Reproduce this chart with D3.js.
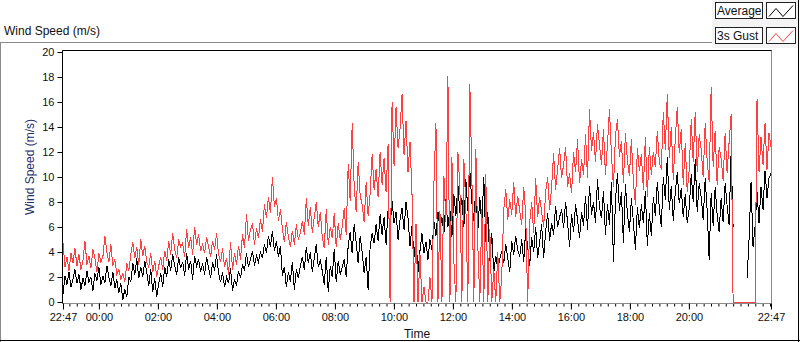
<!DOCTYPE html>
<html>
<head>
<meta charset="utf-8">
<script src="https://cdn.jsdelivr.net/npm/d3@7"></script>
<style>
  body { margin: 0; background: #fff; }
  svg { display: block; font-family: "Liberation Sans", Arial, sans-serif; }
</style>
</head>
<body>
<svg id="chart" width="800" height="342"></svg>
<script>
// samples, evenly spaced from 22:47 to 22:47 next day (null = no reading)
const avgSpeed = [
  0.6, 2.1, 1.4, 2.4, 1.2, 1.8, 2.6, 1.5, 2.2, 1.0,
  1.9, 1.3, 2.5, 1.6, 2.0, 0.9, 2.3, 1.7, 2.8, 1.4,
  2.1, 1.5, 2.9, 2.0, 1.3, 2.4, 1.1, 1.8, 0.7, 1.5,
  0.2, 1.0, 0.4, 2.0, 1.6, 3.1, 2.2, 3.5, 1.9, 2.8,
  2.0, 3.3, 2.4, 1.3, 2.6, 0.8, 1.9, 0.4, 1.5, 2.3,
  1.2, 2.8, 2.0, 3.4, 2.5, 3.8, 2.9, 2.2, 3.6, 2.7,
  3.2, 2.1, 3.9, 2.6, 3.3, 1.8, 3.7, 2.9, 3.4, 2.4,
  3.1, 2.2, 3.6, 2.7, 1.9, 3.2, 2.5, 3.8, 2.3, 1.6,
  2.4, 1.2, 2.0, 1.5, 2.7, 0.9, 1.8, 1.3, 2.5, 1.9,
  3.0, 2.5, 3.9, 2.8, 3.4, 4.1, 2.9, 3.7, 3.2, 4.0,
  3.5, 4.6, 3.9, 5.3, 4.4, 5.7, 4.1, 4.9, 3.6, 4.5,
  2.1, 2.8, 1.2, 2.4, 1.6, 3.2, 1.0, 2.6, 1.9, 2.9,
  3.6, 2.6, 4.4, 3.1, 4.0, 2.4, 3.5, 4.6, 2.8, 3.3,
  2.5, 1.4, 3.6, 0.8, 2.9, 2.0, 4.2, 1.6, 3.3, 2.2,
  2.8, 3.4, 2.0, 4.5, 5.6, 3.9, 6.2, 4.8, 3.1, 5.3,
  4.0, 2.3, 3.6, 1.0, 4.4, 5.5, 4.7, 6.2, 4.9, 7.0,
  5.4, 6.8, 4.6, 7.4, 5.9, 8.1, 6.3, 7.2, 5.0, 6.6,
  7.5, 5.8, 8.0, 6.7, 4.5, 6.1, 3.6, 5.2, 2.4, 4.1,
  5.5, 3.9, 4.8, 3.4, 5.0, 4.2, 6.4, 5.3, 7.2, 5.8,
  6.8, 5.5, 8.2, 6.0, 7.4, 5.2, 8.6, 6.9, 9.4, 7.1,
  8.3, 6.0, 9.8, 7.3, 10.5, 8.0, 6.5, 9.1, 5.7, 8.4,
  6.1, 10.0, 4.8, 7.2, 3.3, 5.5, 2.3, 3.7, 2.6, 3.4,
  4.1, 3.1, 4.6, 3.5, 2.4, 4.9, 3.8, 5.3, 4.2, 3.6,
  5.0, 3.2, 5.8, 4.4, 2.9, 5.2, 4.0, 6.0, 3.5, 4.8,
  6.2, 3.5, 5.6, 7.1, 4.9, 6.3, 5.4, 7.7, 6.0, 6.8,
  7.4, 5.9, 8.0, 6.4, 4.4, 7.0, 5.6, 7.8, 6.6, 5.1,
  7.2, 6.1, 8.5, 5.8, 9.3, 7.0, 8.0, 6.3, 9.8, 7.6,
  6.7, 8.9, 5.4, 7.8, 6.2, 9.6, 3.2, 8.1, 10.3, 7.3,
  8.8, 4.7, 9.4, 7.1, 5.6, 8.3, 6.4, 4.2, 7.6, 5.9,
  7.8, 6.3, 8.9, 4.5, 7.1, 5.3, 8.4, 6.9, 9.6, 7.5,
  6.0, 10.0, 8.2, 11.6, 7.4, 9.3, 6.5, 8.8, 10.4, 7.9,
  9.1, 6.8, 8.6, 6.3, 7.5, 10.2, 8.0, 11.4, 7.2, 9.5,
  8.4, 6.6, 9.9, 7.3, 3.4, 8.7, 6.1, 9.2, 7.0, 5.6,
  8.3, 6.4, 9.5, 7.7, 6.2, 12.0, 6.0, null, null, null,
  null, null, null, 1.9, 5.0, 9.6, 4.4, 6.0, 8.8, 6.3,
  9.2, 7.4, 10.5, 8.3, 9.9, 10.3
];

const gustSpeed = [
  4.7, 2.8, 3.6, 2.5, 3.9, 3.1, 4.3, 2.9, 3.8, 2.6,
  3.3, 4.9, 3.0, 3.7, 2.7, 4.2, 3.5, 2.4, 3.9, 3.2,
  3.6, 5.3, 4.0, 3.2, 4.6, 2.9, 3.4, 2.2, 2.6, 1.8,
  2.3, 1.6, 3.1, 2.5, 3.8, 4.8, 3.5, 4.4, 3.0, 5.0,
  3.7, 4.5, 3.2, 2.8, 3.9, 2.4, 3.3, 2.0, 2.9, 3.6,
  2.6, 4.1, 3.3, 4.9, 3.8, 5.5, 4.2, 3.5, 5.0, 4.4,
  4.7, 3.6, 5.8, 4.3, 5.2, 3.8, 6.0, 4.6, 5.4, 4.1,
  4.6, 3.9, 5.2, 4.4, 3.6, 4.9, 4.2, 5.5, 3.8, 3.2,
  4.3, 2.8, 3.5, 2.2, 4.8, 2.6, 3.9, 3.0, 4.5, 3.4,
  5.4, 4.3, 7.0, 4.9, 5.8, 6.3, 4.6, 5.9, 5.1, 6.6,
  5.6, 7.8, 6.7, 8.4, 7.1, 10.0, 7.6, 8.3, 6.5, 7.4,
  5.9, 4.8, 6.4, 5.2, 4.4, 5.7, 4.6, 6.2, 5.0, 5.5,
  6.5, 5.4, 8.3, 6.1, 7.6, 5.5, 6.8, 8.0, 6.0, 7.2,
  5.2, 4.3, 7.4, 4.6, 6.0, 5.1, 7.1, 4.4, 6.3, 5.0,
  6.0, 7.5, 5.4, 11.0, 8.1, 14.3, 9.3, 7.2, 11.2, 8.5,
  7.8, 6.4, 9.6, 6.9, 8.7, 11.8, 9.0, 10.6, 8.4, 12.0,
  9.4, 11.5, 8.8, 12.6, 0.0, 16.0, 10.9, 15.6, 12.3, 13.9,
  16.6, 11.8, 14.5, 10.4, 12.8, 8.6, 0.0, 6.2, 0.0, 3.8,
  0.0, 1.2, 0.0, 0.0, 2.0, 0.0, 9.5, 14.3, 0.0, 7.3,
  0.0, 10.1, 6.4, 18.1, 0.0, 11.6, 3.2, 0.0, 12.0, 9.2,
  0.0, 11.4, 7.6, 0.0, 17.4, 10.2, 0.0, 12.2, 4.5, 0.0,
  7.4, 0.0, 10.2, 0.0, 5.8, 0.0, 2.6, 0.0, 4.0, 0.0,
  2.1, 7.4, 9.0, 6.6, 8.2, 7.0, 9.6, 6.8, 8.5, 7.3,
  6.2, 9.2, 7.0, 0.0, 6.4, 8.0, 5.5, 9.9, 6.8, 8.4,
  7.2, 6.0, 8.8, 10.0, 7.4, 9.2, 11.9, 9.0, 10.6, 12.3,
  9.9, 11.0, 12.4, 9.2, 10.3, 8.7, 12.0, 10.4, 13.0, 9.5,
  11.4, 10.2, 13.4, 9.9, 15.4, 12.1, 13.6, 11.2, 14.2, 12.6,
  11.0, 13.8, 10.2, 12.6, 15.4, 11.8, 9.2, 13.3, 14.6, 11.6,
  12.9, 9.5, 13.5, 11.3, 10.1, 13.0, 9.6, 7.8, 12.3, 10.5,
  11.8, 9.0, 13.2, 8.4, 12.4, 10.2, 12.0, 10.8, 13.7, 11.2,
  10.6, 15.2, 12.2, 16.6, 11.5, 14.0, 9.8, 13.1, 15.6, 11.9,
  13.8, 9.4, 12.7, 8.8, 10.6, 14.6, 11.2, 15.2, 10.4, 13.4,
  12.2, 10.0, 14.3, 11.3, 9.6, 17.2, 10.8, 13.7, 9.4, 12.4,
  11.5, 9.7, 13.5, 10.3, 12.8, 15.0, 0.0, 0.0, 0.0, 0.0,
  0.0, 0.0, 0.0, 0.0, 0.0, 0.0, 0.0, 0.0, 16.2, 10.4,
  13.2, 11.0, 14.3, 10.6, 13.5, 12.4
];

const yTicks = [0, 2, 4, 6, 8, 10, 12, 14, 16, 18, 20];
const xLabelHours = [0, 2, 4, 6, 8, 10, 12, 14, 16, 18, 20];
const seriesNames = ["Average", "3s Gust"];
const seriesColors = ["#000000", "#ff4040"];

const t0 = new Date(2024, 0, 1, 22, 47);
const t1 = new Date(2024, 0, 2, 22, 47);

const svg = d3.select("#chart");

const x = d3.scaleTime().domain([t0, t1]).range([63, 771]);
const y = d3.scaleLinear().domain([0, 20]).range([302, 52]);

const dt = (t1 - t0) / (avgSpeed.length - 1);
const timeAt = i => new Date(+t0 + i * dt);

// outer frame
svg.append("line").attr("x1", 0).attr("x2", 712).attr("y1", 42.5).attr("y2", 42.5).attr("stroke", "#8a8a8a");
svg.append("line").attr("x1", 0.5).attr("x2", 0.5).attr("y1", 42).attr("y2", 342).attr("stroke", "#8a8a8a");
svg.append("line").attr("x1", 0).attr("x2", 800).attr("y1", 340.5).attr("y2", 340.5).attr("stroke", "#000");
svg.append("line").attr("x1", 798.5).attr("x2", 798.5).attr("y1", 0).attr("y2", 342).attr("stroke", "#000");

svg.append("text")
    .attr("x", 4).attr("y", 35)
    .attr("font-size", 12).attr("fill", "#111")
    .text("Wind Speed (m/s)");

// plot area frame
svg.append("rect")
    .attr("x", 62.5).attr("y", 50.5)
    .attr("width", 709).attr("height", 253)
    .attr("fill", "#fff").attr("stroke", "#8a8a8a");
svg.append("line").attr("x1", 62.5).attr("x2", 771.5).attr("y1", 50.5).attr("y2", 50.5).attr("stroke", "#000");

// y axis
const yAxis = svg.append("g")
    .attr("transform", "translate(62.5,0)")
    .call(d3.axisLeft(y).tickValues(yTicks).tickSize(5).tickPadding(3));
yAxis.select(".domain").attr("d", "M0,50.5V303.5").attr("stroke", "#000");
yAxis.selectAll("text").attr("font-size", 11).attr("fill", "#111")
    .attr("font-family", "Liberation Sans, Arial, sans-serif");

svg.append("text")
    .attr("transform", "translate(34,167) rotate(-90)")
    .attr("text-anchor", "middle")
    .attr("font-size", 12).attr("fill", "#1f2f6a")
    .text("Wind Speed (m/s)");

// x axis: minor ticks every 15 minutes, labels every 2 hours
const minorTicks = d3.timeMinute.every(15).range(t0, t1);
svg.append("g")
    .attr("transform", "translate(0,303.5)")
    .call(d3.axisBottom(x).tickValues(minorTicks).tickSize(3).tickFormat(""))
    .call(g => g.select(".domain").remove());

const majorTicks = [t0].concat(xLabelHours.map(h => new Date(2024, 0, 2, h, 0)), [t1]);
const xAxis = svg.append("g")
    .attr("transform", "translate(0,303.5)")
    .call(d3.axisBottom(x).tickValues(majorTicks).tickSize(6).tickPadding(4)
        .tickFormat(d3.timeFormat("%H:%M")));
xAxis.select(".domain").attr("d", "M62.5,0H771.5").attr("stroke", "#8a8a8a");
xAxis.selectAll("text").attr("font-size", 11).attr("fill", "#111")
    .attr("font-family", "Liberation Sans, Arial, sans-serif");

svg.append("text")
    .attr("x", 417).attr("y", 338)
    .attr("text-anchor", "middle")
    .attr("font-size", 12).attr("fill", "#111")
    .text("Time");

// plots
const line = d3.line()
    .defined(d => d != null)
    .x((d, i) => x(timeAt(i)))
    .y(d => y(d));

const plots = svg.append("g");
[avgSpeed, gustSpeed].forEach((series, k) => {
    plots.append("path")
        .attr("d", line(series))
        .attr("fill", "none")
        .attr("stroke", seriesColors[k])
        .attr("stroke-width", 1)
        .attr("shape-rendering", "crispEdges");
});

// legend
const legend = svg.append("g");
legend.append("rect")
    .attr("x", 712).attr("y", 0).attr("width", 86).attr("height", 48)
    .attr("fill", "#f4f4f4");
seriesNames.forEach((name, k) => {
    const top = 2.5 + k * 25;
    legend.append("rect")
        .attr("x", 715.5).attr("y", top).attr("width", 47).attr("height", 16)
        .attr("fill", "#fff").attr("stroke", "#222");
    legend.append("text")
        .attr("x", 717).attr("y", top + 12.5)
        .attr("font-size", 12).attr("fill", "#111")
        .text(name);
    legend.append("rect")
        .attr("x", 766.5).attr("y", top).attr("width", 29).attr("height", 16)
        .attr("fill", "#fff").attr("stroke", "#222");
    legend.append("path")
        .attr("d", `M${769},${top + 14}L${776},${top + 6}L${783},${top + 14}L${793},${top + 3}`)
        .attr("fill", "none")
        .attr("stroke", seriesColors[k]);
});
</script>
</body>
</html>
